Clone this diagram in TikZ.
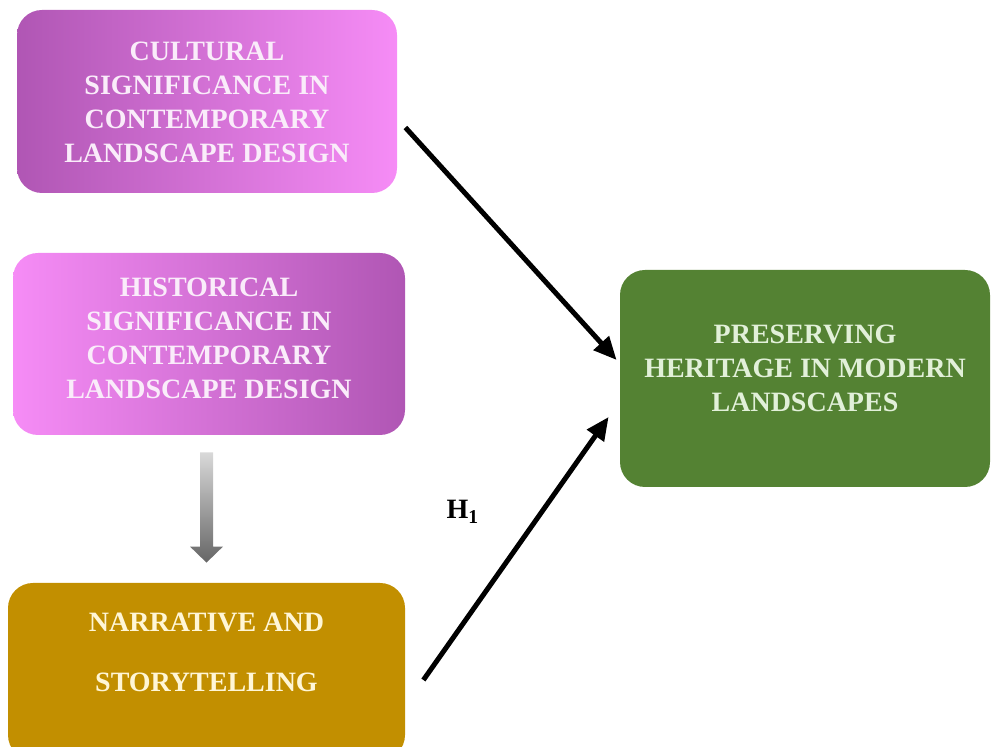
\documentclass[tikz,border=0pt]{standalone}
\usepackage{fontspec}
\setmainfont{Liberation Serif}
\usetikzlibrary{arrows.meta, calc}

\definecolor{plumdark}{RGB}{176,86,180}
\definecolor{pinklight}{RGB}{246,140,246}
\definecolor{ochre}{RGB}{194,143,0}
\definecolor{leafgreen}{RGB}{84,130,51}
\definecolor{pinktext}{RGB}{250,236,250}
\definecolor{creamtext}{RGB}{255,246,214}
\definecolor{minttext}{RGB}{226,240,217}

\begin{document}
\begin{tikzpicture}[x = 0.5pt, y = -0.5pt,
  box/.style = {rounded corners = 12.5pt, inner sep = 0pt,
    font = \bfseries\fontsize{14}{17}\selectfont},
  link/.style = {line width = 2.5pt, -{Triangle[length = 11.5pt, width = 10pt]}}
  ]
  \useasboundingbox (0, 0) rectangle (992, 747);
  \clip (0, 0) rectangle (992, 747);

  \node[box, left color = plumdark, right color = pinklight, text = pinktext,
  minimum width = 190pt, minimum height = 91.5pt] (cultural) at (207, 101.5)
  {\parbox[c][91.5pt][t]{190pt}{\centering\vspace{16pt}CULTURAL\\
      SIGNIFICANCE IN\\ CONTEMPORARY\\ LANDSCAPE DESIGN}};

  \node[box, left color = pinklight, right color = plumdark, text = pinktext,
  minimum width = 196pt, minimum height = 91pt] (historical) at (209, 344)
  {\parbox[c][91pt][t]{196pt}{\centering\vspace{12.5pt}HISTORICAL\\
      SIGNIFICANCE IN\\ CONTEMPORARY\\ LANDSCAPE DESIGN}};

  \node[box, fill = ochre, text = creamtext,
  minimum width = 198.5pt, minimum height = 88.5pt] (narrative) at (206.5, 671.5)
  {\parbox[c][88.5pt][t]{198.5pt}{\centering\vspace{15pt}NARRATIVE AND\\[13pt]
      STORYTELLING}};

  \node[box, fill = leafgreen, text = minttext,
  minimum width = 185pt, minimum height = 108.5pt] (heritage) at (805, 378.5)
  {\parbox[c][108.5pt][t]{185pt}{\centering\vspace{27.5pt}PRESERVING\\
      HERITAGE IN MODERN\\ LANDSCAPES}};

  % grey block arrow
  \shade[top color = gray!30, bottom color = gray!80!black]
  ($(narrative.north |- historical.south) + (-6.5, 17)$)
  -- ($(narrative.north |- historical.south) + (6.5, 17)$)
  -- ($(narrative.north) + (6.5, -36)$)
  -- ($(narrative.north) + (16.5, -36)$)
  -- ($(narrative.north) + (0, -20)$)
  -- ($(narrative.north) + (-16.5, -36)$)
  -- ($(narrative.north) + (-6.5, -36)$) -- cycle;

  \draw[link] ([xshift = 4pt, yshift = -13pt]cultural.east)
  -- ([xshift = -1.5pt, yshift = 9.25pt]heritage.west);
  \draw[link] ([xshift = 9pt, yshift = -4.25pt]narrative.east)
  -- node[pos = 0.64, xshift = -39.5pt, font = \bfseries\fontsize{14}{17}\selectfont]
  (hone) {H\textsubscript{1}} ([xshift = -5.5pt, yshift = -19.25pt]heritage.west);
\end{tikzpicture}
\end{document}
